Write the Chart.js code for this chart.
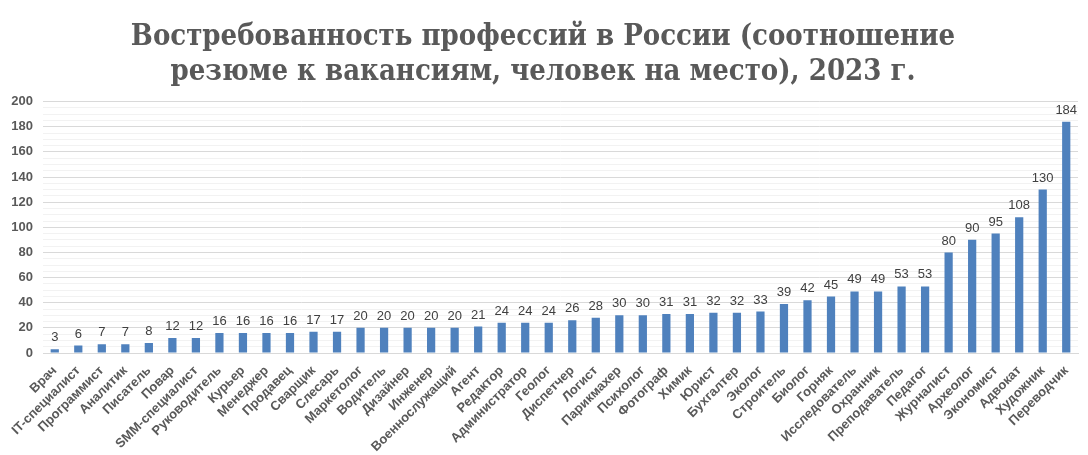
<!DOCTYPE html>
<html>
<head>
<meta charset="utf-8">
<script src="https://cdn.jsdelivr.net/npm/chart.js@4"></script>
<style>
    html, body { margin: 0; padding: 0; background: #fff; }
    #wrap { width: 1088px; height: 455px; position: relative; }
</style>
</head>
<body>
<div id="wrap"><canvas id="demandChart"></canvas></div>
<script>
// Data
const professions = ['Врач', 'IT-специалист', 'Программист', 'Аналитик', 'Писатель', 'Повар',
    'SMM-специалист', 'Руководитель', 'Курьер', 'Менеджер', 'Продавец', 'Сварщик', 'Слесарь',
    'Маркетолог', 'Водитель', 'Дизайнер', 'Инженер', 'Военнослужащий', 'Агент', 'Редактор',
    'Администратор', 'Геолог', 'Диспетчер', 'Логист', 'Парикмахер', 'Психолог', 'Фотограф',
    'Химик', 'Юрист', 'Бухгалтер', 'Эколог', 'Строитель', 'Биолог', 'Горняк', 'Исследователь',
    'Охранник', 'Преподаватель', 'Педагог', 'Журналист', 'Археолог', 'Экономист', 'Адвокат',
    'Художник', 'Переводчик'];
const resumesPerVacancy = [3, 6, 7, 7, 8, 12, 12, 16, 16, 16, 16, 17, 17, 20, 20, 20, 20, 20, 21,
    24, 24, 24, 26, 28, 30, 30, 31, 31, 32, 32, 33, 39, 42, 45, 49, 49, 53, 53, 80, 90, 95, 108,
    130, 184];
const yTickLabels = [0, 20, 40, 60, 80, 100, 120, 140, 160, 180, 200];

const chartTitle = ['Востребованность профессий в России (соотношение',
    'резюме к вакансиям, человек на место), 2023 г.'];

// Value labels above the bars
const barValues = {
    id: 'barValues',
    afterDatasetsDraw(chart) {
        const ctx = chart.ctx;
        const meta = chart.getDatasetMeta(0);
        ctx.save();
        ctx.font = '13px "Liberation Sans", Arial, sans-serif';
        ctx.fillStyle = '#404040';
        ctx.textAlign = 'center';
        ctx.textBaseline = 'bottom';
        meta.data.forEach((bar, i) => {
            ctx.fillText(Math.round(chart.data.datasets[0].data[i]), bar.x, bar.y - 5);
        });
        ctx.restore();
    }
};

new Chart(document.getElementById('demandChart'), {
    type: 'bar',
    data: {
        labels: professions,
        datasets: [{
            data: resumesPerVacancy,
            backgroundColor: '#4f81bd',
            barPercentage: 0.7,
            categoryPercentage: 0.5
        }]
    },
    options: {
        responsive: true,
        maintainAspectRatio: false,
        animation: false,
        layout: { padding: { left: 8, right: 10, top: 8, bottom: 0 } },
        plugins: {
            legend: { display: false },
            tooltip: { enabled: false },
            title: {
                display: true,
                text: chartTitle,
                color: '#595959',
                font: { family: '"DejaVu Serif Condensed", "Liberation Serif", serif', size: 29, weight: 'bold' },
                lineHeight: 1.25,
                padding: { top: 12, bottom: 12 }
            }
        },
        scales: {
            x: {
                grid: { display: false },
                border: { display: true, color: '#d9d9d9' },
                afterFit(scale) { scale.height = 102; },
                ticks: {
                    autoSkip: false,
                    minRotation: 45,
                    maxRotation: 45,
                    color: '#595959',
                    padding: 2,
                    font: { family: '"Liberation Sans", Arial, sans-serif', size: 13, weight: 'bold' }
                }
            },
            y: {
                min: 0,
                max: 200,
                border: { display: false },
                afterFit(scale) { scale.width = 35; },
                afterBuildTicks(scale) {
                    // major lines every 20, minor every 5
                    const ticks = [];
                    for (let v = 0; v <= 200; v += 5) ticks.push({ value: v });
                    scale.ticks = ticks;
                },
                grid: {
                    drawTicks: false,
                    color: ctx => (yTickLabels.includes(ctx.tick.value) ? '#d9d9d9' : '#f2f2f2')
                },
                ticks: {
                    autoSkip: false,
                    padding: 10,
                    color: '#595959',
                    font: { family: '"Liberation Sans", Arial, sans-serif', size: 13, weight: 'bold' },
                    callback: v => (yTickLabels.includes(v) ? v : '')
                }
            }
        }
    },
    plugins: [barValues]
});
</script>
</body>
</html>
